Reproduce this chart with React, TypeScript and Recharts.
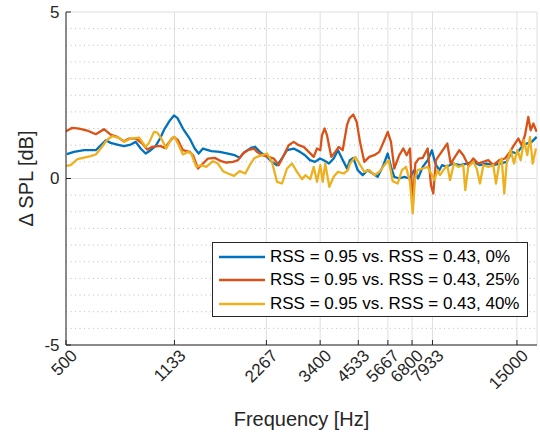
import React from "react";
import {
  LineChart,
  Line,
  XAxis,
  YAxis,
  CartesianGrid,
  ReferenceLine,
  Legend,
} from "recharts";

const FONT = '"Liberation Sans", Arial, Helvetica, sans-serif';
const AX = "#262626";

const xTicks = [500, 1133, 2267, 3400, 4533, 5667, 6800, 7933, 15000];
const yTicks = [-5, 0, 5];
const minorY = [-4.5, -4, -3.5, -3, -2.5, -2, -1.5, -1, -0.5, 0.5, 1, 1.5, 2, 2.5, 3, 3.5, 4, 4.5];

const seriesNames = [
  "RSS = 0.95 vs. RSS = 0.43, 0%",
  "RSS = 0.95 vs. RSS = 0.43, 25%",
  "RSS = 0.95 vs. RSS = 0.43, 40%",
];

// 0% (blue)
const freq0 = [
  503, 531, 573, 626, 650, 675, 700, 736, 774, 815, 846, 878, 912, 947, 984, 1016, 1053, 1096, 1129, 1158,
  1208, 1271, 1320, 1360, 1405, 1496, 1594, 1697, 1785, 1853, 1925, 2018, 2080, 2160, 2277, 2364, 2455, 2550,
  2648, 2785, 2920, 3033, 3149, 3270, 3396, 3492, 3634, 3765, 3890, 4009, 4163, 4258, 4365, 4513, 4686, 4866,
  5053, 5248, 5449, 5659, 5801, 5947, 6176, 6413, 6660, 6916, 7112, 7368, 7651, 7903, 8103, 8351, 8523, 8830,
  9281, 9762, 10268, 10792, 11352, 11940, 12550, 13200, 13884, 14418, 14972, 15547, 16144, 16765, 17409,
];
const spl0 = [
  0.73, 0.8, 0.85, 0.85, 1.0, 1.15, 1.07, 1.02, 0.97, 1.02, 1.1, 0.9, 0.75, 0.85, 0.98, 1.2, 1.5, 1.75, 1.89, 1.82,
  1.5, 1.2, 0.9, 0.75, 0.9, 0.82, 0.8, 0.75, 0.7, 0.62, 0.8, 0.92, 0.95, 0.8, 0.65, 0.5, 0.4, 0.6,
  0.85, 0.9, 0.8, 0.7, 0.55, 0.5, 0.6, 0.55, 0.45, 0.6, 0.85, 0.6, 0.3, 0.55, 0.62, 0.25, 0.1, 0.25,
  0.15, 0.05, 0.35, 0.75, 0.35, 0.05, 0.0, 0.05, 0.0, 0.25, 0.0, 0.35, 0.55, 0.85, 0.45, 0.25, 0.4, 0.35,
  0.45, 0.4, 0.45, 0.5, 0.4, 0.45, 0.4, 0.45, 0.5, 0.8, 0.75, 0.95, 1.05, 1.1, 1.25,
];

// 25% (orange)
const freq25 = [
  500, 524, 552, 587, 626, 666, 700, 736, 774, 804, 846, 889, 923, 959, 1016, 1053, 1101, 1129, 1164, 1208,
  1271, 1303, 1353, 1405, 1459, 1535, 1613, 1675, 1762, 1830, 1900, 1973, 2064, 2112, 2193, 2306, 2395, 2487,
  2583, 2682, 2785, 2892, 3003, 3119, 3239, 3320, 3404, 3447, 3518, 3580, 3698, 3811, 3911, 4030, 4163, 4236,
  4365, 4479, 4592, 4744, 4926, 5115, 5312, 5516, 5659, 5801, 5947, 6176, 6366, 6530, 6695, 6833, 6969, 7149,
  7368, 7651, 7844, 7981, 8145, 8351, 8870, 9100, 9400, 9711, 10008, 10392, 10792, 11206, 11637, 12084, 12550,
  13131, 13707, 14234, 14670, 15153, 15547, 15939, 16341, 16639, 16969, 17409,
];
const spl25 = [
  1.42, 1.52, 1.5, 1.44, 1.33, 1.48, 1.32, 1.25, 1.12, 1.2, 1.2, 1.05, 0.87, 0.95, 0.98, 0.92, 1.15, 1.25, 1.15, 0.85,
  0.8, 0.7, 0.3, 0.45, 0.6, 0.62, 0.52, 0.48, 0.5, 0.55, 0.75, 0.85, 0.9, 0.8, 0.7, 0.65, 0.6, 0.4,
  0.7, 1.0, 1.1, 1.0, 0.95, 0.8, 0.65, 0.9, 0.85, 1.3, 1.5, 1.3, 0.65, 0.8, 0.95, 0.85, 1.6, 1.8,
  1.92, 1.7, 1.1, 0.5, 0.65, 0.7, 0.8, 1.15, 1.4, 1.1, 0.3, 0.7, 0.9, 0.7, 0.9, -0.8, 0.45, 0.6,
  0.62, 0.9, -0.2, -0.45, 0.55, 0.7, 1.05, 0.45, 0.65, 0.85, 0.7, 0.4, 0.6, 0.45, 0.5, 0.55, 0.4,
  0.55, 0.6, 0.8, 1.0, 1.2, 1.0, 1.3, 1.85, 1.45, 1.65, 1.4,
];

// 40% (yellow)
const freq40 = [
  500, 518, 545, 573, 602, 626, 650, 683, 709, 746, 774, 815, 867, 912, 935, 971, 996, 1026, 1065, 1106,
  1135, 1170, 1208, 1255, 1286, 1336, 1387, 1441, 1515, 1573, 1634, 1697, 1775, 1853, 1933, 1999, 2064, 2112,
  2193, 2277, 2364, 2455, 2550, 2648, 2750, 2855, 2965, 3040, 3156, 3239, 3320, 3404, 3466, 3534, 3643, 3765,
  3890, 4061, 4195, 4258, 4432, 4568, 4744, 4926, 5115, 5312, 5516, 5702, 5875, 6102, 6303, 6496, 6695, 6833,
  6953, 7096, 7368, 7651, 7903, 8041, 8252, 8396, 8607, 8870, 9053, 9331, 9637, 10008, 10160, 10392, 10792,
  11072, 11352, 11637, 12084, 12550, 12807, 13131, 13370, 13635, 13884, 14309, 14670, 15040, 15431, 15819,
  16218, 16551, 16892, 17317,
];
const spl40 = [
  0.38, 0.4, 0.58, 0.63, 0.67, 0.72, 0.9, 1.17, 1.27, 1.22, 1.1, 1.2, 1.23, 0.95, 1.07, 1.4, 1.38, 1.2, 0.9, 1.2,
  1.25, 1.0, 0.72, 0.8, 0.75, 0.35, 0.4, 0.35, 0.52, 0.45, 0.22, 0.15, 0.08, 0.22, 0.15, 0.4, 0.6, 0.65,
  0.7, 0.75, 0.5, -0.1, -0.15, 0.3, 0.45, 0.2, -0.02, 0.1, -0.02, 0.35, -0.1, 0.4, -0.1, 0.45, -0.25, 0.05,
  0.2, 0.15, 0.25, 0.45, 0.65, 0.45, 0.2, 0.25, 0.1, 0.2, 0.4, 0.55, -0.08, -0.15, 0.25, 0.35, -0.1, -1.05,
  0.0, 0.25, 0.3, 0.35, 0.1, -0.05, 0.25, 0.1, 0.25, 0.4, -0.05, 0.45, 0.35, 0.4, -0.35, 0.35, 0.5,
  0.3, -0.15, 0.4, 0.35, 0.4, -0.15, 0.45, 0.6, -0.45, 0.45, 0.85, 0.45, 0.85, 0.55, 1.15,
  0.7, 1.25, 0.45, 0.9,
];

const toRows = (f: number[], v: number[]) => f.map((x, i) => ({ f: x, v: v[i] }));

const series = [
  { name: seriesNames[0], color: "#0072BD", data: toRows(freq0, spl0) },
  { name: seriesNames[1], color: "#D95319", data: toRows(freq25, spl25) },
  { name: seriesNames[2], color: "#EDB120", data: toRows(freq40, spl40) },
];

const X_DOMAIN: [number, number] = [500, 17450];

// MATLAB-style ticks pointing into the plot
const BottomTick = ({ x, y, payload }: any) => {
  const tx = x + 8;
  const ty = y + 7.5;
  return (
    <g>
      <line x1={x} x2={x} y1={y} y2={y - 5} stroke={AX} />
      <text
        x={tx}
        y={ty}
        dy="0.35em"
        textAnchor="end"
        transform={`rotate(-45 ${tx} ${ty})`}
        fontSize={17}
        fontFamily={FONT}
        fill={AX}
      >
        {payload.value}
      </text>
    </g>
  );
};

const TopTick = ({ x, y }: any) => <line x1={x} x2={x} y1={y} y2={y + 5} stroke={AX} />;

const LeftTick = ({ x, y, payload }: any) => (
  <g>
    <line x1={x} x2={x + 5} y1={y} y2={y} stroke={AX} />
    <text x={x - 6.5} y={y} dy="0.35em" textAnchor="end" fontSize={17} fontFamily={FONT} fill={AX}>
      {payload.value}
    </text>
  </g>
);

const RightTick = ({ x, y }: any) => <line x1={x} x2={x - 5} y1={y} y2={y} stroke={AX} />;

const XLabel = ({ viewBox }: any) => (
  <text
    x={viewBox.x + viewBox.width / 2}
    y={viewBox.y + viewBox.height - 12}
    textAnchor="middle"
    fontSize={20}
    fontFamily={FONT}
    fill={AX}
  >
    Frequency [Hz]
  </text>
);

const YLabel = ({ viewBox }: any) => {
  const cx = viewBox.x + 26;
  const cy = viewBox.y + viewBox.height / 2;
  return (
    <text
      x={cx}
      y={cy}
      dy="0.36em"
      textAnchor="middle"
      transform={`rotate(-90 ${cx} ${cy})`}
      fontSize={20}
      fontFamily={FONT}
      fill={AX}
    >
      Δ SPL [dB]
    </text>
  );
};

const LegendBox = ({ payload }: any) => (
  <div
    style={{
      boxSizing: "border-box",
      width: 316,
      height: 75,
      border: `1px solid ${AX}`,
      background: "#fff",
      paddingTop: 2,
      fontFamily: FONT,
      fontSize: 17,
      color: "#000",
    }}
  >
    {(payload || []).map((p: any) => (
      <div key={p.value} style={{ display: "flex", alignItems: "center", height: 23.5 }}>
        <svg width={46} height={4} style={{ marginLeft: 6 }}>
          <line x1={0} x2={46} y1={2} y2={2} stroke={p.color} strokeWidth={2.3} />
        </svg>
        <span style={{ marginLeft: 5, whiteSpace: "nowrap" }}>{p.value}</span>
      </div>
    ))}
  </div>
);

export default function App() {
  return (
    <div style={{ position: "absolute", left: 0, top: 0 }}>
      <LineChart
        width={540}
        height={438}
        margin={{ top: 12, right: 3, bottom: 0, left: 0 }}
        style={{ fontFamily: FONT, background: "#fff" }}
      >
        <CartesianGrid stroke="#dfdfdf" strokeWidth={1} />
        {minorY.map((v) => (
          <ReferenceLine key={v} y={v} stroke="#bdbdbd" strokeDasharray="1 3.5" />
        ))}
        <XAxis
          dataKey="f"
          type="number"
          scale="log"
          domain={X_DOMAIN}
          allowDataOverflow
          ticks={xTicks}
          interval={0}
          height={93}
          tickSize={0}
          tickMargin={0}
          tickLine={false}
          tick={<BottomTick />}
          axisLine={{ stroke: AX }}
          label={<XLabel />}
        />
        <XAxis
          xAxisId="top"
          orientation="top"
          dataKey="f"
          type="number"
          scale="log"
          domain={X_DOMAIN}
          allowDataOverflow
          ticks={xTicks}
          interval={0}
          height={0}
          tickSize={0}
          tickMargin={0}
          tickLine={false}
          tick={<TopTick />}
          axisLine={{ stroke: AX }}
        />
        <YAxis
          type="number"
          domain={[-5, 5]}
          allowDataOverflow
          ticks={yTicks}
          interval={0}
          width={66}
          tickSize={0}
          tickMargin={0}
          tickLine={false}
          tick={<LeftTick />}
          axisLine={{ stroke: AX }}
          label={<YLabel />}
        />
        <YAxis
          yAxisId="right"
          orientation="right"
          type="number"
          domain={[-5, 5]}
          allowDataOverflow
          ticks={yTicks}
          interval={0}
          width={0}
          tickSize={0}
          tickMargin={0}
          tickLine={false}
          tick={<RightTick />}
          axisLine={{ stroke: AX }}
        />
        {series.map((s) => (
          <Line
            key={s.name}
            data={s.data}
            dataKey="v"
            name={s.name}
            type="linear"
            stroke={s.color}
            strokeWidth={2.3}
            strokeLinejoin="round"
            dot={false}
            activeDot={false}
            isAnimationActive={false}
          />
        ))}
        <Legend
          layout="vertical"
          align="center"
          verticalAlign="middle"
          wrapperStyle={{ left: 212, top: 242, width: 316, height: 75 }}
          content={<LegendBox />}
        />
      </LineChart>
    </div>
  );
}
